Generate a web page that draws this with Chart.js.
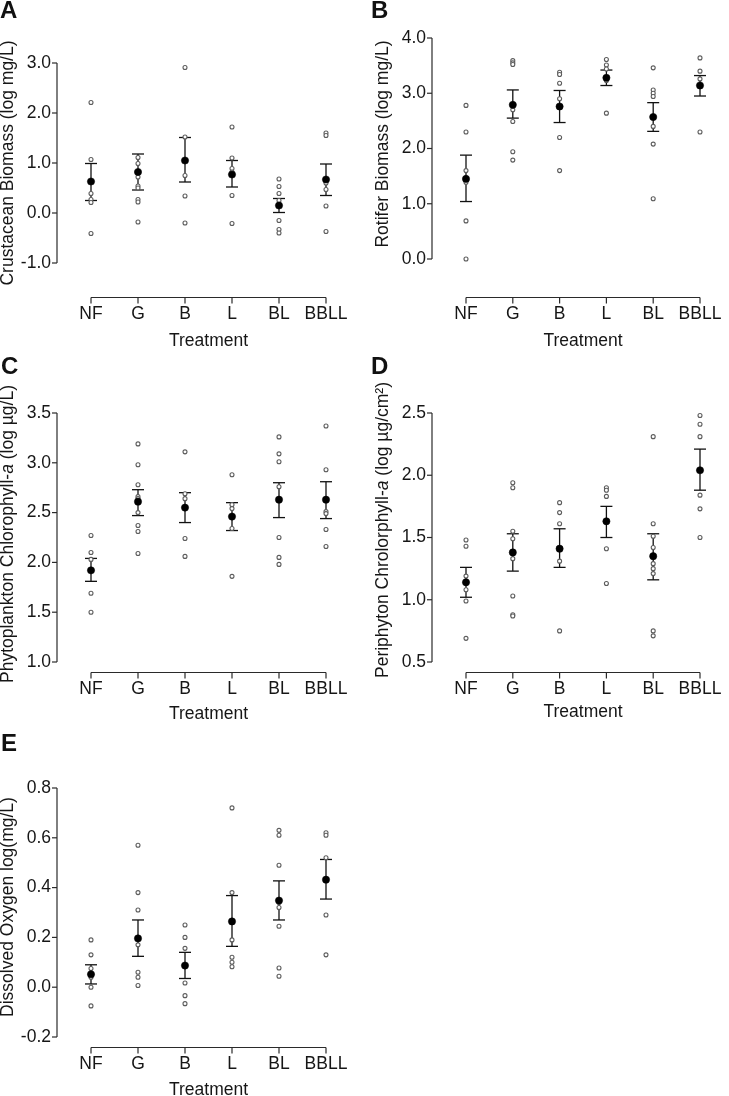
<!DOCTYPE html>
<html>
<head>
<meta charset="utf-8">
<script src="https://cdn.jsdelivr.net/npm/chart.js@4.4.1/dist/chart.umd.min.js"></script>
<style>
html,body{margin:0;padding:0;background:#fff;}
#wrap{position:relative;width:729px;height:1096px;overflow:hidden;background:#fff;}
canvas{position:absolute;left:0;top:0;}
.lbl{position:absolute;font-family:"Liberation Sans",Arial,sans-serif;font-weight:bold;font-size:24px;line-height:24px;color:#111;}
</style>
</head>
<body>
<div id="wrap">
  <canvas id="cA" width="729" height="1096"></canvas>
  <canvas id="cB" width="729" height="1096"></canvas>
  <canvas id="cC" width="729" height="1096"></canvas>
  <canvas id="cD" width="729" height="1096"></canvas>
  <canvas id="cE" width="729" height="1096"></canvas>
  <div class="lbl" style="left:0px;top:-2px">A</div>
  <div class="lbl" style="left:371px;top:-2px">B</div>
  <div class="lbl" style="left:1px;top:354px">C</div>
  <div class="lbl" style="left:371px;top:354px">D</div>
  <div class="lbl" style="left:1px;top:731px">E</div>
</div>
<script>
// ---------------- DATA ----------------
const categories = ['NF', 'G', 'B', 'L', 'BL', 'BBLL'];

// Panel A: Crustacean biomass
const crustPoints = [
  [2.21, 1.07, 0.39, 0.27, 0.21, -0.41],
  [3.12, 1.11, 0.99, 0.72, 0.54, 0.50, 0.27, 0.22, -0.18],
  [2.91, 1.52, 0.75, 0.34, -0.20],
  [1.72, 1.10, 0.89, 0.82, 0.35, -0.21],
  [0.68, 0.53, 0.39, 0.25, 0.17, -0.15, -0.33, -0.40],
  [1.60, 1.55, 0.65, 0.60, 0.47, 0.14, -0.37]
];
const crustMean = [0.63, 0.82, 1.05, 0.77, 0.15, 0.67];
const crustErrLow = [0.25, 0.46, 0.62, 0.52, 0.01, 0.35];
const crustErrHigh = [0.99, 1.18, 1.51, 1.05, 0.29, 0.98];
const crustTicks = [-1, 0, 1, 2, 3];

// Panel B: Rotifer biomass
const rotPoints = [
  [2.78, 2.30, 1.60, 1.47, 1.39, 0.69, 0.00],
  [3.59, 3.55, 3.52, 2.78, 2.70, 2.49, 1.94, 1.79],
  [3.38, 3.34, 3.18, 2.90, 2.76, 2.20, 1.60],
  [3.61, 3.51, 3.44, 3.29, 3.23, 2.64],
  [3.46, 3.06, 3.00, 2.94, 2.56, 2.40, 2.08, 1.09],
  [3.64, 3.40, 3.26, 3.14, 2.30]
];
const rotMean = [1.45, 2.79, 2.76, 3.28, 2.57, 3.14];
const rotErrLow = [1.04, 2.55, 2.47, 3.14, 2.31, 2.95];
const rotErrHigh = [1.88, 3.06, 3.05, 3.42, 2.83, 3.32];
const rotTicks = [0, 1, 2, 3, 4];

// Panel C: Phytoplankton chlorophyll-a
const phytoPoints = [
  [2.27, 2.10, 2.03, 1.69, 1.50],
  [3.19, 2.98, 2.78, 2.66, 2.64, 2.50, 2.37, 2.31, 2.09],
  [3.11, 2.69, 2.64, 2.24, 2.06],
  [2.88, 2.58, 2.54, 2.34, 1.86],
  [3.26, 3.09, 3.01, 2.76, 2.25, 2.05, 1.98],
  [3.37, 2.93, 2.51, 2.49, 2.33, 2.16]
];
const phytoMean = [1.92, 2.61, 2.55, 2.46, 2.63, 2.63];
const phytoErrLow = [1.81, 2.47, 2.40, 2.32, 2.45, 2.44];
const phytoErrHigh = [2.04, 2.73, 2.70, 2.60, 2.80, 2.81];
const phytoTicks = [1.0, 1.5, 2.0, 2.5, 3.0, 3.5];

// Panel D: Periphyton chlorophyll-a
const periPoints = [
  [1.48, 1.43, 1.19, 1.15, 1.08, 0.99, 0.69],
  [1.94, 1.90, 1.55, 1.49, 1.39, 1.33, 1.03, 0.88, 0.87],
  [1.78, 1.70, 1.61, 1.31, 0.75],
  [1.90, 1.88, 1.83, 1.41, 1.13],
  [2.31, 1.61, 1.51, 1.42, 1.29, 1.25, 1.21, 0.75, 0.71],
  [2.48, 2.41, 2.31, 1.84, 1.73, 1.50]
];
const periMean = [1.14, 1.38, 1.41, 1.63, 1.35, 2.04];
const periErrLow = [1.02, 1.23, 1.26, 1.50, 1.16, 1.88];
const periErrHigh = [1.26, 1.53, 1.57, 1.75, 1.53, 2.21];
const periTicks = [0.5, 1.0, 1.5, 2.0, 2.5];

// Panel E: Dissolved oxygen
const doPoints = [
  [0.19, 0.13, 0.075, 0.04, 0.00, -0.075],
  [0.57, 0.38, 0.31, 0.17, 0.06, 0.04, 0.007],
  [0.25, 0.20, 0.156, 0.017, -0.034, -0.066],
  [0.72, 0.38, 0.19, 0.12, 0.10, 0.082],
  [0.63, 0.61, 0.49, 0.34, 0.32, 0.245, 0.077, 0.044],
  [0.62, 0.61, 0.52, 0.29, 0.13]
];
const doMean = [0.052, 0.196, 0.087, 0.264, 0.348, 0.432];
const doErrLow = [0.013, 0.124, 0.035, 0.164, 0.27, 0.354];
const doErrHigh = [0.09, 0.27, 0.14, 0.368, 0.427, 0.513];
const doTicks = [-0.2, 0.0, 0.2, 0.4, 0.6, 0.8];

// ---------------- STYLE / LAYOUT ----------------
const FONT_FAMILY = '"Liberation Sans", Arial, sans-serif';
const FONT_SIZE = 17.5;
const TEXT_COLOR = '#161616';
const AXIS_COLOR = '#2a2a2a';
const PAGE_H = 1096, PAGE_W = 729;

Chart.defaults.font.family = FONT_FAMILY;
Chart.defaults.font.size = FONT_SIZE;
Chart.defaults.color = TEXT_COLOR;

function prismPlugin(g, lo, hi, titleSegs) {
  return {
    id: 'prism',
    beforeDatasetsDraw(chart) {
      const ctx = chart.ctx;
      const xs = chart.scales.x, ys = chart.scales.y;
      const line = (x1, y1, x2, y2) => { ctx.beginPath(); ctx.moveTo(x1, y1); ctx.lineTo(x2, y2); ctx.stroke(); };
      ctx.save();
      ctx.strokeStyle = AXIS_COLOR;
      ctx.lineWidth = 1.2;
      // y axis line + ticks (pointing left)
      const ax = g.yAxisX;
      line(ax, ys.getPixelForValue(ys.max), ax, ys.getPixelForValue(ys.min));
      ys.ticks.forEach(t => { const py = ys.getPixelForValue(t.value); line(ax - 5, py, ax, py); });
      // detached x axis line + ticks (pointing down)
      const ay = g.xAxisY;
      line(xs.getPixelForValue(0), ay, xs.getPixelForValue(categories.length - 1), ay);
      categories.forEach((c, i) => { const px = xs.getPixelForValue(i); line(px, ay, px, ay + 6); });
      // error bars
      ctx.strokeStyle = '#111';
      ctx.lineWidth = 1.3;
      lo.forEach((l, i) => {
        const px = xs.getPixelForValue(i);
        const y1 = ys.getPixelForValue(l), y2 = ys.getPixelForValue(hi[i]);
        line(px, y1, px, y2);
        line(px - 6, y1, px + 6, y1);
        line(px - 6, y2, px + 6, y2);
      });
      ctx.restore();
    },
    afterDraw(chart) {
      const ctx = chart.ctx;
      ctx.save();
      ctx.fillStyle = TEXT_COLOR;
      ctx.textBaseline = 'middle';
      ctx.textAlign = 'left';
      const fontFor = it => (it ? 'italic ' : '') + FONT_SIZE + 'px ' + FONT_FAMILY;
      let total = 0;
      titleSegs.forEach(s => { ctx.font = fontFor(s[1]); total += ctx.measureText(s[0]).width; });
      ctx.translate(g.yTitleX, g.yTitleY);
      ctx.rotate(-Math.PI / 2);
      let x = -total / 2;
      titleSegs.forEach(s => { ctx.font = fontFor(s[1]); ctx.fillText(s[0], x, 0); x += ctx.measureText(s[0]).width; });
      ctx.restore();
    }
  };
}

function makePanel(id, pts, mean, lo, hi, ticks, g, titleSegs) {
  const scatterData = [];
  pts.forEach((arr, i) => arr.forEach(v => scatterData.push({ x: categories[i], y: v })));
  const meanData = mean.map((m, i) => ({ x: categories[i], y: m }));
  const YW = 91;
  const scaleBottom = Math.min(PAGE_H, g.xTitleY + 12);
  const padBottom = PAGE_H - scaleBottom;
  const XH = scaleBottom - g.chartBottom;
  const halfLH = FONT_SIZE / 2;
  new Chart(document.getElementById(id), {
    type: 'scatter',
    data: {
      datasets: [
        { data: meanData, pointRadius: 3.6, pointBorderWidth: 0.6, borderColor: '#000', backgroundColor: '#000', order: 0, clip: false },
        { data: scatterData, pointRadius: 2.0, pointBorderWidth: 1.1, borderColor: '#5c5c5c', backgroundColor: '#ffffff', order: 1, clip: false }
      ]
    },
    options: {
      responsive: false,
      animation: false,
      events: [],
      layout: { padding: { left: g.chartLeft - YW, top: g.chartTop, right: PAGE_W - g.chartRight, bottom: padBottom } },
      plugins: { legend: { display: false }, tooltip: { enabled: false } },
      scales: {
        x: {
          type: 'category',
          labels: categories,
          offset: false,
          grid: { display: false, drawTicks: false },
          border: { display: false },
          ticks: { autoSkip: false, maxRotation: 0, padding: g.xLabelY - g.chartBottom - halfLH, font: { size: FONT_SIZE, lineHeight: 1 }, color: TEXT_COLOR },
          title: { display: true, text: 'Treatment', color: TEXT_COLOR, font: { size: FONT_SIZE, lineHeight: 1 }, padding: { top: 0, bottom: scaleBottom - halfLH - g.xTitleY } },
          afterFit(s) { s.height = XH; s.paddingLeft = 0; s.paddingRight = 0; }
        },
        y: {
          type: 'linear',
          min: ticks[0],
          max: ticks[ticks.length - 1],
          grid: { display: false, drawTicks: false },
          border: { display: false },
          afterBuildTicks(s) { s.ticks = ticks.map(v => ({ value: v })); },
          ticks: { padding: g.chartLeft - g.yAxisX + 6, color: TEXT_COLOR, font: { size: FONT_SIZE }, callback: v => Number(v).toFixed(1) },
          afterFit(s) { s.width = YW; s.paddingTop = 0; s.paddingBottom = 0; }
        }
      }
    },
    plugins: [prismPlugin(g, lo, hi, titleSegs)]
  });
}

const geomA = { chartLeft: 91, chartRight: 326, chartTop: 63, chartBottom: 263, yAxisX: 57, xAxisY: 297.5, xLabelY: 314, xTitleY: 341, yTitleX: 8, yTitleY: 163 };
const geomB = { chartLeft: 466, chartRight: 700, chartTop: 38, chartBottom: 259, yAxisX: 432, xAxisY: 297.5, xLabelY: 314, xTitleY: 341, yTitleX: 383, yTitleY: 144 };
const geomC = { chartLeft: 91, chartRight: 326, chartTop: 413, chartBottom: 662, yAxisX: 57, xAxisY: 672.5, xLabelY: 689.5, xTitleY: 714, yTitleX: 8, yTitleY: 534 };
const geomD = { chartLeft: 466, chartRight: 700, chartTop: 413, chartBottom: 662, yAxisX: 432, xAxisY: 672.5, xLabelY: 689.5, xTitleY: 712, yTitleX: 383, yTitleY: 530 };
const geomE = { chartLeft: 91, chartRight: 326, chartTop: 788, chartBottom: 1037, yAxisX: 57, xAxisY: 1047.5, xLabelY: 1064, xTitleY: 1090, yTitleX: 8, yTitleY: 907 };

makePanel('cA', crustPoints, crustMean, crustErrLow, crustErrHigh, crustTicks, geomA, [['Crustacean Biomass (log mg/L)', false]]);
makePanel('cB', rotPoints, rotMean, rotErrLow, rotErrHigh, rotTicks, geomB, [['Rotifer Biomass (log mg/L)', false]]);
makePanel('cC', phytoPoints, phytoMean, phytoErrLow, phytoErrHigh, phytoTicks, geomC, [['Phytoplankton Chlorophyll-', false], ['a', true], [' (log µg/L)', false]]);
makePanel('cD', periPoints, periMean, periErrLow, periErrHigh, periTicks, geomD, [['Periphyton Chrolorphyll-', false], ['a', true], [' (log µg/cm²)', false]]);
makePanel('cE', doPoints, doMean, doErrLow, doErrHigh, doTicks, geomE, [['Dissolved Oxygen log(mg/L)', false]]);
</script>
</body>
</html>
